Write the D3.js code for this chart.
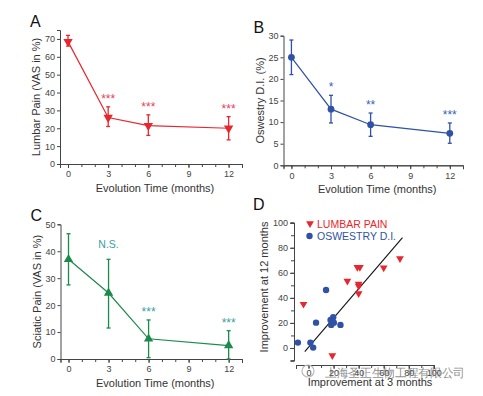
<!DOCTYPE html>
<html>
<head>
<meta charset="utf-8">
<script src="https://cdn.jsdelivr.net/npm/d3@7"></script>
<style>
  body { margin: 0; background: #fff; }
  svg text { font-family: "Liberation Sans", Arial, sans-serif; }
</style>
</head>
<body>
<script>
// Evolution time points (months)
const months = [0, 3, 6, 12];

// Panel A - lumbar pain (VAS %)
const lumbarMean = [68.5, 26, 21.5, 20];
const lumbarLow = [66, 21, 16, 13.5];
const lumbarHigh = [72, 32, 27.5, 26.5];
const lumbarSig = ["", "***", "***", "***"];

// Panel B - Oswestry D.I. (%)
const oswMean = [25, 13, 9.4, 7.4];
const oswLow = [21, 9.8, 6.7, 5.1];
const oswHigh = [29, 16.2, 12.1, 9.8];
const oswSig = ["", "*", "**", "***"];

// Panel C - sciatic pain (VAS %)
const sciaticMean = [37, 24.5, 7.5, 5];
const sciaticLow = [27.5, 11.5, 0.5, 0];
const sciaticHigh = [46.5, 37, 14.5, 10.5];
const sciaticSig = ["", "N.S.", "***", "***"];

// Panel D - improvement at 3 vs 12 months
const lumbarImp3 = [-4, 19, 31, 39, 41, 40, 40, 40, 60, 73];
const lumbarImp12 = [35, -6, 53.5, 64.5, 64.5, 51, 49.5, 43.5, 64, 71.5];
const oswImp3 = [-8.5, 1.5, 3.7, 6, 14, 17.6, 18.1, 19.2, 19.7, 20.2, 25.5];
const oswImp12 = [4.3, 4.3, 0.3, 20.2, 46.3, 22.3, 18.4, 21, 24.5, 20.2, 18.4];
const fitX = [-3, 75];
const fitY = [-3, 88];

const red = "#e8262e", blue = "#2f52a6", green = "#1b8a4c";

const svg = d3.select("body").append("svg")
    .attr("width", 483)
    .attr("height", 396);

function styleAxis(g) {
  g.selectAll("path, line").attr("stroke", "#444").attr("stroke-width", 1);
  g.selectAll("text").attr("fill", "#444").attr("font-size", 9);
}

// Line panel with error bars
function linePanel(p) {
  const x = d3.scaleLinear().domain([-0.6, 13]).range([p.left, p.right]);
  const y = d3.scaleLinear().domain([0, p.ymax]).range([p.bottom, p.top]);
  const g = svg.append("g");

  // minor x ticks every month
  g.append("g")
    .attr("transform", `translate(0,${p.bottom})`)
    .call(d3.axisBottom(x).tickValues(d3.range(0, 13)).tickSize(3).tickFormat(""))
    .call(styleAxis);
  g.append("g")
    .attr("transform", `translate(0,${p.bottom})`)
    .call(d3.axisBottom(x).tickValues([0, 3, 6, 9, 12]).tickSize(4).tickPadding(3))
    .call(styleAxis);
  g.append("g")
    .attr("transform", `translate(${p.left},0)`)
    .call(d3.axisLeft(y).tickValues(p.yticks).tickSize(3).tickPadding(2))
    .call(styleAxis);

  const pts = months.map((m, i) => ({m, v: p.mean[i], lo: p.low[i], hi: p.high[i], s: p.sig[i]}));

  g.append("path")
    .datum(pts)
    .attr("fill", "none")
    .attr("stroke", p.color)
    .attr("stroke-width", 1.2)
    .attr("d", d3.line().x(d => x(d.m)).y(d => y(d.v)));

  const eb = g.selectAll(".eb").data(pts).enter().append("g");
  eb.append("line")
    .attr("x1", d => x(d.m)).attr("x2", d => x(d.m))
    .attr("y1", d => y(d.lo)).attr("y2", d => y(d.hi))
    .attr("stroke", p.color).attr("stroke-width", 1.3);
  eb.append("line")
    .attr("x1", d => x(d.m) - 2).attr("x2", d => x(d.m) + 2)
    .attr("y1", d => y(d.lo)).attr("y2", d => y(d.lo))
    .attr("stroke", p.color).attr("stroke-width", 1.3);
  eb.append("line")
    .attr("x1", d => x(d.m) - 2).attr("x2", d => x(d.m) + 2)
    .attr("y1", d => y(d.hi)).attr("y2", d => y(d.hi))
    .attr("stroke", p.color).attr("stroke-width", 1.3);

  g.selectAll(".mk").data(pts).enter().append(p.symbol === "circle" ? "circle" : "path")
    .each(function(d) {
      const el = d3.select(this);
      if (p.symbol === "circle") {
        el.attr("cx", x(d.m)).attr("cy", y(d.v)).attr("r", 3.4);
      } else {
        el.attr("transform", `translate(${x(d.m)},${y(d.v)})` + (p.symbol === "down" ? " rotate(180)" : ""))
          .attr("d", d3.symbol(d3.symbolTriangle, 38)());
      }
    })
    .attr("fill", p.color);

  g.selectAll(".sig").data(pts.filter(d => d.s)).enter().append("text")
    .attr("x", d => x(d.m))
    .attr("y", d => y(d.hi) - (d.s === "N.S." ? 11 : 4))
    .attr("text-anchor", "middle")
    .attr("font-size", d => d.s === "N.S." ? 10.5 : 12)
    .attr("fill", p.sigColor)
    .text(d => d.s);

  g.append("text")
    .attr("x", (p.left + p.right) / 2 + 4)
    .attr("y", p.bottom + 28)
    .attr("text-anchor", "middle")
    .attr("font-size", 11)
    .attr("fill", "#333")
    .text("Evolution Time (months)");
  g.append("text")
    .attr("transform", `translate(${p.left - 20},${(p.top + p.bottom) / 2}) rotate(-90)`)
    .attr("text-anchor", "middle")
    .attr("font-size", 11)
    .attr("fill", "#333")
    .text(p.ylabel);
  g.append("text")
    .attr("x", p.left - 30)
    .attr("y", p.top - 3)
    .attr("font-size", 16)
    .attr("fill", "#111")
    .text(p.letter);
}

linePanel({letter: "A", left: 60, right: 242, top: 30, bottom: 164, ymax: 75,
  yticks: d3.range(0, 71, 10), mean: lumbarMean, low: lumbarLow, high: lumbarHigh,
  sig: lumbarSig, color: red, sigColor: "#e8405a", symbol: "down",
  ylabel: "Lumbar Pain (VAS in %)"});

linePanel({letter: "B", left: 283.5, right: 463, top: 35.7, bottom: 165.3, ymax: 30,
  yticks: d3.range(0, 31, 5), mean: oswMean, low: oswLow, high: oswHigh,
  sig: oswSig, color: blue, sigColor: "#3a60c0", symbol: "circle",
  ylabel: "Oswestry D.I. (%)"});

linePanel({letter: "C", left: 60.5, right: 242, top: 224.3, bottom: 359, ymax: 50,
  yticks: d3.range(0, 51, 10), mean: sciaticMean, low: sciaticLow, high: sciaticHigh,
  sig: sciaticSig, color: green, sigColor: "#3a9ea6", symbol: "up",
  ylabel: "Sciatic Pain (VAS in %)"});

// Panel D - scatter
{
  const x = d3.scaleLinear().domain([-10, 100]).range([296, 433.8]);
  const y = d3.scaleLinear().domain([-10, 100]).range([360.5, 222.7]);
  const g = svg.append("g");

  g.append("g")
    .attr("transform", "translate(0,365)")
    .call(d3.axisBottom(x).tickValues(d3.range(-10, 101, 10)).tickSize(3).tickFormat(""))
    .call(styleAxis);
  g.append("g")
    .attr("transform", "translate(0,365)")
    .call(d3.axisBottom(x).tickValues(d3.range(0, 101, 20)).tickSize(4).tickPadding(1))
    .call(styleAxis);
  g.append("g")
    .attr("transform", "translate(294,0)")
    .call(d3.axisLeft(y).tickValues(d3.range(-10, 101, 10)).tickSize(3).tickFormat(""))
    .call(styleAxis);
  g.append("g")
    .attr("transform", "translate(294,0)")
    .call(d3.axisLeft(y).tickValues(d3.range(0, 101, 20)).tickSize(4).tickPadding(2))
    .call(styleAxis);

  g.append("line")
    .attr("x1", x(fitX[0])).attr("y1", y(fitY[0]))
    .attr("x2", x(fitX[1])).attr("y2", y(fitY[1]))
    .attr("stroke", "#111").attr("stroke-width", 1.1);

  g.selectAll(".osw").data(oswImp3).enter().append("circle")
    .attr("cx", d => x(d))
    .attr("cy", (d, i) => y(oswImp12[i]))
    .attr("r", 3.2)
    .attr("fill", blue);

  g.selectAll(".lum").data(lumbarImp3).enter().append("path")
    .attr("transform", (d, i) => `translate(${x(d)},${y(lumbarImp12[i])}) rotate(180)`)
    .attr("d", d3.symbol(d3.symbolTriangle, 26)())
    .attr("fill", red);

  // legend
  g.append("path")
    .attr("transform", "translate(310,223.5) rotate(180)")
    .attr("d", d3.symbol(d3.symbolTriangle, 26)())
    .attr("fill", red);
  g.append("text").attr("x", 317).attr("y", 227.5).attr("font-size", 10.5)
    .attr("fill", red).text("LUMBAR PAIN");
  g.append("circle").attr("cx", 309.5).attr("cy", 236).attr("r", 3.2).attr("fill", blue);
  g.append("text").attr("x", 317).attr("y", 240).attr("font-size", 10.5)
    .attr("fill", blue).text("OSWESTRY D.I.");

  g.append("text")
    .attr("x", 370).attr("y", 386)
    .attr("text-anchor", "middle")
    .attr("font-size", 11).attr("fill", "#333")
    .text("Improvement at 3 months");
  g.append("text")
    .attr("transform", "translate(268,287) rotate(-90)")
    .attr("text-anchor", "middle")
    .attr("font-size", 11).attr("fill", "#333")
    .text("Improvement at 12 months");
  g.append("text")
    .attr("x", 253).attr("y", 210)
    .attr("font-size", 16).attr("fill", "#111")
    .text("D");

  // watermark
  g.append("circle").attr("cx", 308).attr("cy", 371).attr("r", 6)
    .attr("fill", "none").attr("stroke", "#bbb").attr("stroke-width", 1.2);
  g.append("text")
    .attr("x", 325).attr("y", 377)
    .attr("font-family", "Noto Sans CJK SC")
    .attr("font-size", 12)
    .attr("textLength", 140)
    .attr("lengthAdjust", "spacingAndGlyphs")
    .attr("fill", "#666")
    .attr("fill-opacity", 0.75)
    .text("上海圣正生物工程有限公司");
}
</script>
</body>
</html>
